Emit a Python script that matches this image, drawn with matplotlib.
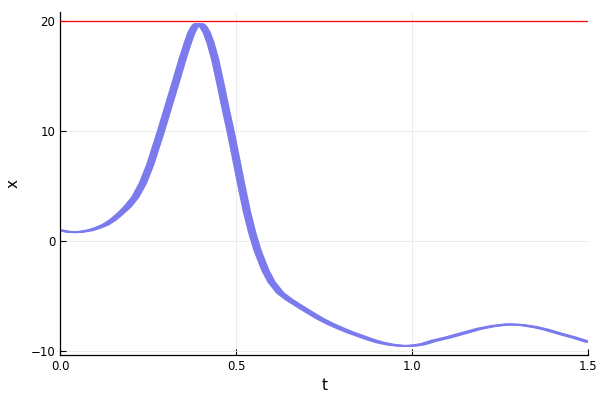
import numpy as np
import matplotlib
matplotlib.use("Agg")
import matplotlib.pyplot as plt

# centre of the trajectory band
t_center = [0.0, 0.02, 0.04, 0.06, 0.085, 0.105, 0.128, 0.15, 0.17, 0.19,
            0.213, 0.235, 0.256, 0.272, 0.287, 0.303, 0.320, 0.334, 0.348, 0.362,
            0.372, 0.38, 0.387, 0.393, 0.4, 0.407, 0.416, 0.427, 0.44, 0.455,
            0.47, 0.485, 0.5, 0.515, 0.53, 0.545, 0.56, 0.582, 0.6, 0.625,
            0.65, 0.682, 0.71, 0.739, 0.767, 0.795, 0.823, 0.852, 0.88, 0.909,
            0.94, 0.975, 1.003, 1.03, 1.06, 1.1, 1.145, 1.19, 1.23, 1.27,
            1.31, 1.35, 1.383, 1.42, 1.46, 1.5]
x_center = [1.0, 0.87, 0.82, 0.86, 1.0, 1.2, 1.5, 1.95, 2.5, 3.1,
            4.0, 5.3, 7.0, 8.6, 10.1, 11.8, 13.6, 15.1, 16.6, 18.0,
            18.9, 19.4, 19.68, 19.75, 19.68, 19.45, 18.95, 18.0, 16.5, 14.3,
            12.0, 9.8, 7.4, 5.0, 2.7, 0.8, -0.8, -2.6, -3.7, -4.7,
            -5.3, -5.95, -6.5, -7.05, -7.5, -7.9, -8.27, -8.6, -8.92, -9.2,
            -9.4, -9.52, -9.48, -9.35, -9.05, -8.75, -8.35, -7.95, -7.7, -7.55,
            -7.6, -7.8, -8.05, -8.4, -8.75, -9.15]
band_halfwidth = [0.005, 0.005, 0.006, 0.006, 0.007, 0.007, 0.008, 0.008, 0.008, 0.009,
                  0.009, 0.009, 0.009, 0.009, 0.009, 0.009, 0.009, 0.009, 0.009, 0.009,
                  0.009, 0.009, 0.009, 0.009, 0.009, 0.009, 0.009, 0.009, 0.009, 0.009,
                  0.009, 0.009, 0.009, 0.009, 0.009, 0.009, 0.009, 0.009, 0.009, 0.009,
                  0.009, 0.009, 0.009, 0.009, 0.009, 0.009, 0.009, 0.009, 0.009, 0.009,
                  0.009, 0.009, 0.009, 0.008, 0.008, 0.008, 0.008, 0.007, 0.007, 0.007,
                  0.007, 0.006, 0.006, 0.006, 0.006, 0.006]
threshold = 20

xticks = [0.0, 0.5, 1.0, 1.5]
xtick_labels = ["0.0", "0.5", "1.0", "1.5"]
yticks = [-10, 0, 10, 20]
ytick_labels = ["\u221210", "0", "10", "20"]

band_color = "#7b7bee"

fig = plt.figure(figsize=(6, 4), dpi=100)
ax = fig.add_axes([0.1005, 0.1125, 0.8800, 0.8583])

tc = np.array(t_center)
xc = np.array(x_center)
hw = np.array(band_halfwidth)
t_early = tc - hw
t_late = tc + hw

poly_t = np.concatenate([t_early, t_late[::-1]])
poly_x = np.concatenate([xc, xc[::-1]])
ax.fill(poly_t, poly_x, color=band_color, lw=0, zorder=2)
for tt in (t_early, tc, t_late):
    ax.plot(tt, xc, color=band_color, lw=1.4, solid_joinstyle="round",
            solid_capstyle="round", zorder=2)

ax.axhline(threshold, color="red", lw=0.9, zorder=3)

ax.set_xlim(0, 1.5)
ax.set_ylim(-10.33, 20.85)
ax.set_xticks(xticks)
ax.set_xticklabels(xtick_labels)
ax.set_yticks(yticks)
ax.set_yticklabels(ytick_labels)
ax.tick_params(direction="in", length=4, width=0.8, labelsize=8.5, colors="black")
ax.grid(True, color="#e9e9e9", lw=0.6, zorder=0)
ax.set_axisbelow(True)
for s in ["top", "right"]:
    ax.spines[s].set_visible(False)
for s in ["left", "bottom"]:
    ax.spines[s].set_linewidth(0.9)
ax.set_xlabel("t", fontsize=11)
ax.set_ylabel("x", fontsize=11, labelpad=7.5)

fig.savefig("out.png", dpi=100)
